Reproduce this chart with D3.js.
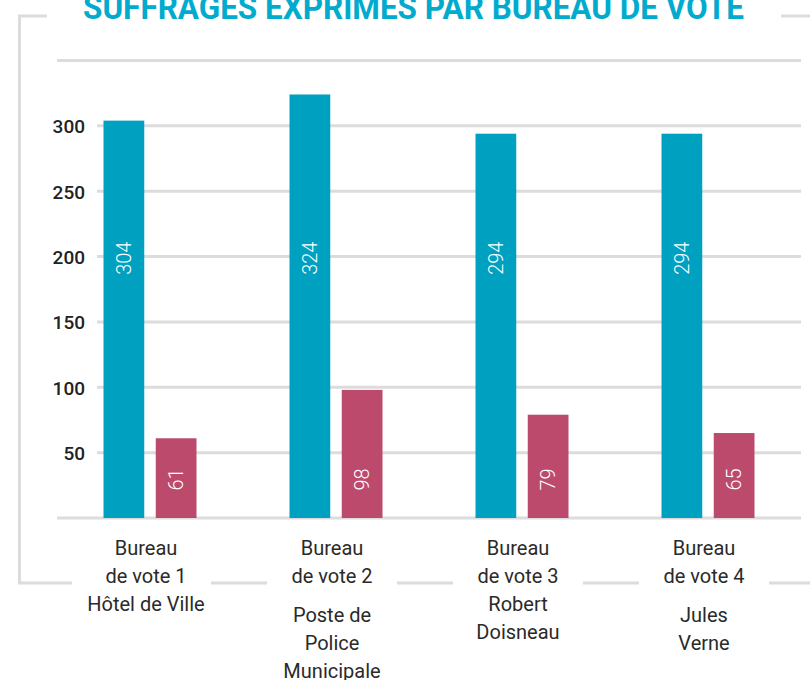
<!DOCTYPE html>
<html>
<head>
<meta charset="utf-8">
<script src="https://cdn.jsdelivr.net/npm/d3@7"></script>
<style>
  body { margin: 0; background: #fff; }
  svg { display: block; }
</style>
</head>
<body>
<div id="chart"></div>
<script>
// data
var bureaux = ["Bureau 1", "Bureau 2", "Bureau 3", "Bureau 4"];
var suffrages = [304, 324, 294, 294];
var autres = [61, 98, 79, 65];
var labelTop = [["Bureau", "de vote 1"], ["Bureau", "de vote 2"], ["Bureau", "de vote 3"], ["Bureau", "de vote 4"]];
var labelLieu = [["Hôtel de Ville"], ["Poste de", "Police", "Municipale"], ["Robert", "Doisneau"], ["Jules", "Verne"]];
var tickValues = [0, 50, 100, 150, 200, 250, 300, 350];
var tickLabels = ["", "50", "100", "150", "200", "250", "300", ""];
var titre = "SUFFRAGES EXPRIMÉS PAR BUREAU DE VOTE";

var W = 810, H = 680;
var teal = "#00a0c1", pink = "#bb4a6d", grid = "#dcdcdc";

var svg = d3.select("#chart")
    .append("svg")
    .attr("width", W)
    .attr("height", H);

// scales
var x = d3.scaleBand()
    .domain(bureaux)
    .range([57, 801])
    .paddingInner(0.5)
    .paddingOuter(0.25);

var x1 = d3.scaleBand()
    .domain(["s", "a"])
    .range([0, x.bandwidth()])
    .paddingInner(0.22);

var y = d3.scaleLinear()
    .domain([0, 350])
    .range([518, 60.5]);

// frame
var frame = svg.append("g")
    .attr("fill", "none")
    .attr("stroke", grid)
    .attr("stroke-width", 3);

frame.append("path").attr("d", "M47,16H19.5V583H72");
frame.append("path").attr("d", "M781,16H812");

var centres = bureaux.map(function(b) { return x(b) + x.bandwidth() / 2 - 4; });
for (var i = 0; i < centres.length; i++) {
    var x0 = centres[i] + 65;
    var xEnd = i < centres.length - 1 ? centres[i + 1] - 65 : 812;
    frame.append("line")
        .attr("x1", x0).attr("x2", xEnd)
        .attr("y1", 583).attr("y2", 583);
}

// title (cut at the top edge, as in the original)
svg.append("text")
    .attr("x", 413.5)
    .attr("y", 19)
    .attr("text-anchor", "middle")
    .attr("textLength", 661)
    .attr("lengthAdjust", "spacingAndGlyphs")
    .style("font-family", "Roboto, sans-serif")
    .style("font-weight", 700)
    .style("font-size", "34px")
    .attr("fill", "#00abcd")
    .text(titre);

// gridlines
svg.append("g")
    .selectAll("line")
    .data(tickValues)
    .enter()
    .append("line")
    .attr("x1", function(d, i) { return tickLabels[i] ? 97 : 57; })
    .attr("x2", 801)
    .attr("y1", function(d) { return y(d); })
    .attr("y2", function(d) { return y(d); })
    .attr("stroke", grid)
    .attr("stroke-width", 3);

// y axis labels
var yAxis = svg.append("g")
    .attr("transform", "translate(85,0)")
    .call(d3.axisLeft(y)
        .tickValues(tickValues)
        .tickFormat(function(d, i) { return tickLabels[i]; })
        .tickSize(0)
        .tickPadding(0));
yAxis.select(".domain").remove();
yAxis.selectAll("text")
    .attr("dy", "0.36em")
    .style("font-family", "Roboto, sans-serif")
    .style("font-weight", 500)
    .style("font-size", "19px")
    .attr("fill", "#222");

// bars
var groups = svg.append("g")
    .selectAll("g")
    .data(bureaux)
    .enter()
    .append("g")
    .attr("transform", function(d) { return "translate(" + x(d) + ",0)"; });

groups.append("rect")
    .attr("x", x1("s"))
    .attr("width", x1.bandwidth())
    .attr("y", function(d, i) { return y(suffrages[i]); })
    .attr("height", function(d, i) { return y(0) - y(suffrages[i]); })
    .attr("fill", teal);

groups.append("rect")
    .attr("x", x1("a"))
    .attr("width", x1.bandwidth())
    .attr("y", function(d, i) { return y(autres[i]); })
    .attr("height", function(d, i) { return y(0) - y(autres[i]); })
    .attr("fill", pink);

// values inside bars
function valueLabel(key, vals, at) {
    groups.append("text")
        .attr("transform", function() {
            return "translate(" + (x1(key) + x1.bandwidth() / 2) + "," + y(at) + ")rotate(-90)";
        })
        .attr("dy", "0.35em")
        .attr("text-anchor", "start")
        .style("font-family", "Roboto, sans-serif")
        .style("font-weight", 300)
        .style("font-size", "20px")
        .attr("fill", "#fff")
        .text(function(d, i) { return vals[i]; });
}
valueLabel("s", suffrages, 186);
valueLabel("a", autres, 21);

// category labels
var cat = svg.append("g")
    .style("font-family", "Roboto, sans-serif")
    .style("font-size", "20px")
    .attr("fill", "#2a2a2a")
    .attr("text-anchor", "middle");

bureaux.forEach(function(b, i) {
    var cx = centres[i];
    labelTop[i].forEach(function(t, k) {
        cat.append("text").attr("x", cx).attr("y", 555 + k * 28).text(t);
    });
    var start = labelLieu[i].length > 2 || i == 3 ? 622 : 611;
    labelLieu[i].forEach(function(t, k) {
        cat.append("text").attr("x", cx).attr("y", start + k * 28).text(t);
    });
});
</script>
</body>
</html>
